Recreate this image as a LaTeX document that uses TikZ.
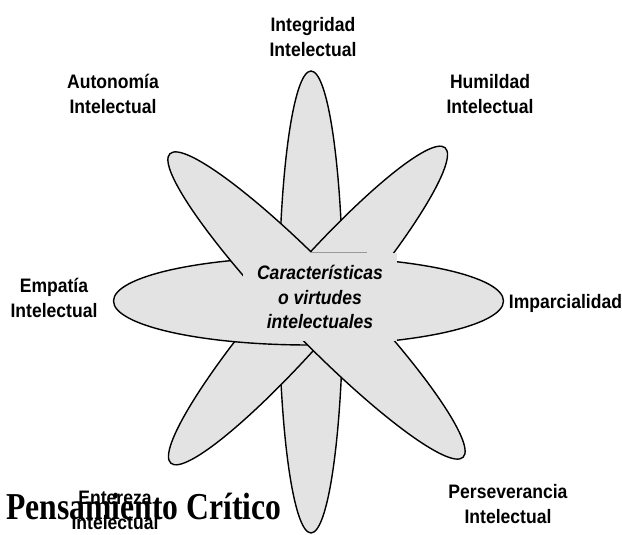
\documentclass[tikz,border=0pt]{standalone}
\usepackage{fontspec}
\setsansfont{Liberation Sans}[FakeStretch=0.9]
\newfontfamily\titlefont{Liberation Serif}[FakeStretch=0.833]
\usetikzlibrary{positioning}
\definecolor{petalfill}{RGB}{227,227,227}

\begin{document}
\begin{tikzpicture}[
  x=1pt, y=1pt,
  petal/.style={draw=black, fill=petalfill, line width=1.4pt},
  lbl/.style={align=center, inner sep=0pt, text=black,
              font=\sffamily\bfseries\fontsize{19.5}{25}\selectfont},
  core/.style={fill=petalfill, minimum width=154pt, minimum height=88pt, inner sep=0pt,
               align=center, font=\sffamily\bfseries\itshape\fontsize{19.5}{24.5}\selectfont},
  title/.style={anchor=base west, inner sep=0pt,
                font=\titlefont\bfseries\fontsize{38}{42}\selectfont},
]
\useasboundingbox (0,0) rectangle (622,535);

% ---- petals, back to front ----
\filldraw[petal] (311,233) ellipse [x radius=32, y radius=231];
\filldraw[petal, rotate around={49:(308,229.5)}] (308,229.5) ellipse [x radius=209, y radius=34];
\filldraw[petal] (308.5,234) ellipse [x radius=195, y radius=44];
\filldraw[petal, rotate around={-46:(316.5,229.5)}] (316.5,229.5) ellipse [x radius=211, y radius=34];

% ---- centre label, covers the crossing ----
\node[core] (virtudes) at (320,238) {Características\\o virtudes\\intelectuales};
\draw[black!40, line width=1pt] ([xshift=-10pt]virtudes.north) -- ([xshift=47pt]virtudes.north);

% ---- the virtues round the star ----
\node[lbl] (integridad) at (313,498) {Integridad\\Intelectual};
\node[lbl] (autonomia) at (113,441) {Autonomía\\Intelectual};
\node[lbl] (humildad) at (490,441) {Humildad\\Intelectual};
\node[lbl] (empatia) at (54,237) {Empatía\\Intelectual};
\node[lbl] (imparcialidad) at (565.5,231.5) {Imparcialidad};
\node[lbl] (perseverancia) at (508,31) {Perseverancia\\Intelectual};
\node[lbl] (entereza) at (115,25) {Entereza\\Intelectual};

% ---- title, printed over the last label ----
\node[title] (titulo) at (6,15) {Pensamiento Crítico};
\end{tikzpicture}
\end{document}
